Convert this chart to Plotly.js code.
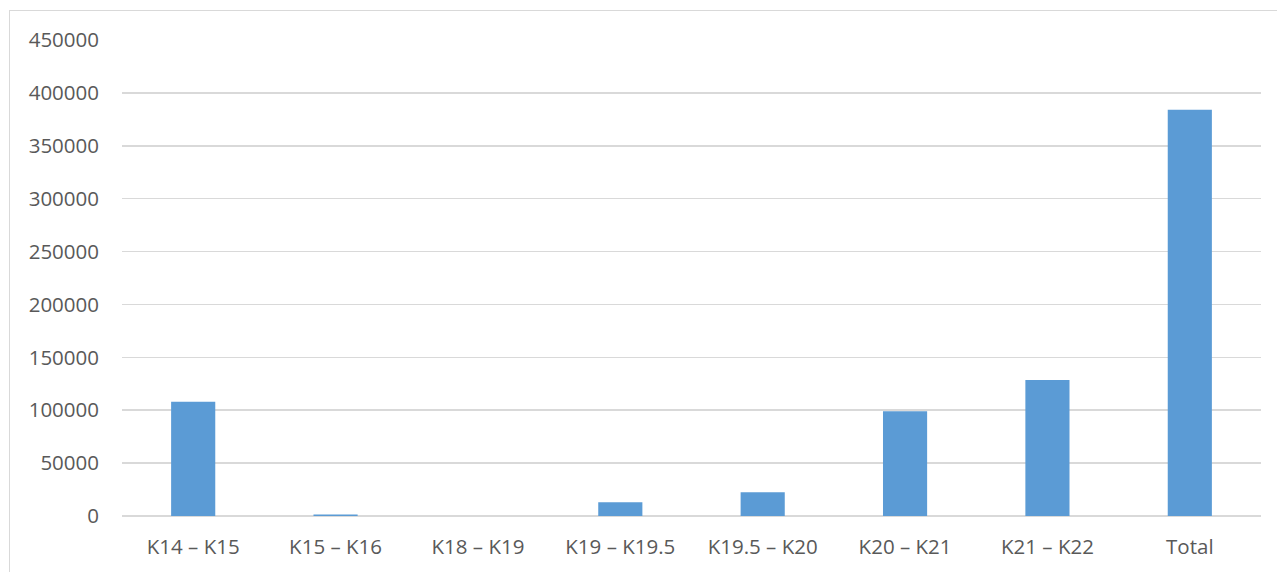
<!DOCTYPE html>
<html>
<head>
<meta charset="utf-8">
<script src="https://cdn.plot.ly/plotly-3.0.1.min.js"></script>
<style>
html,body{margin:0;padding:0;background:#fff;}
#wrap{position:relative;width:1277px;height:572px;overflow:hidden;}
#chart{width:1277px;height:572px;}
#frame{position:absolute;left:9px;top:10px;width:1300px;height:600px;border-left:1px solid #d9d9d9;border-top:1px solid #d9d9d9;pointer-events:none;}
</style>
</head>
<body>
<div id="wrap">
<div id="chart"></div>
<div id="frame"></div>
</div>
<script>
const categories = ["K14 – K15", "K15 – K16", "K18 – K19", "K19 – K19.5", "K19.5 – K20", "K20 – K21", "K21 – K22", "Total"];
const values = [108000, 1500, 0, 13000, 22500, 99000, 128500, 384000];
const yTicks = [0, 50000, 100000, 150000, 200000, 250000, 300000, 350000, 400000, 450000];

const L = 122, R = 16, T = 40, B = 56;
const W = 1277, H = 572;

const trace = {
  type: 'bar',
  x: categories,
  y: values,
  marker: {color: '#5b9bd5', line: {width: 0}},
  hoverinfo: 'x+y'
};

const layout = {
  width: W, height: H,
  margin: {l: L, r: R, t: T, b: B, pad: 0},
  paper_bgcolor: '#ffffff',
  plot_bgcolor: '#ffffff',
  bargap: 0.69,
  showlegend: false,
  font: {family: '"Open Sans", Arial, sans-serif', color: '#595959', size: 21},
  xaxis: {
    type: 'category',
    showgrid: false,
    zeroline: false,
    showline: false,
    ticks: '',
    ticklabelstandoff: 16,
    tickfont: {size: 20.5, color: '#595959'}
  },
  yaxis: {
    range: [0, 450000],
    tickvals: yTicks,
    ticktext: yTicks.map(String),
    showgrid: true,
    gridcolor: '#d9d9d9',
    gridwidth: 1.5,
    zeroline: true,
    zerolinecolor: '#d9d9d9',
    zerolinewidth: 1.5,
    showline: false,
    ticks: '',
    ticklabelstandoff: 22,
    tickfont: {size: 20.5, color: '#595959'}
  }
};

Plotly.newPlot('chart', [trace], layout, {displayModeBar: false, staticPlot: true});
</script>
</body>
</html>
